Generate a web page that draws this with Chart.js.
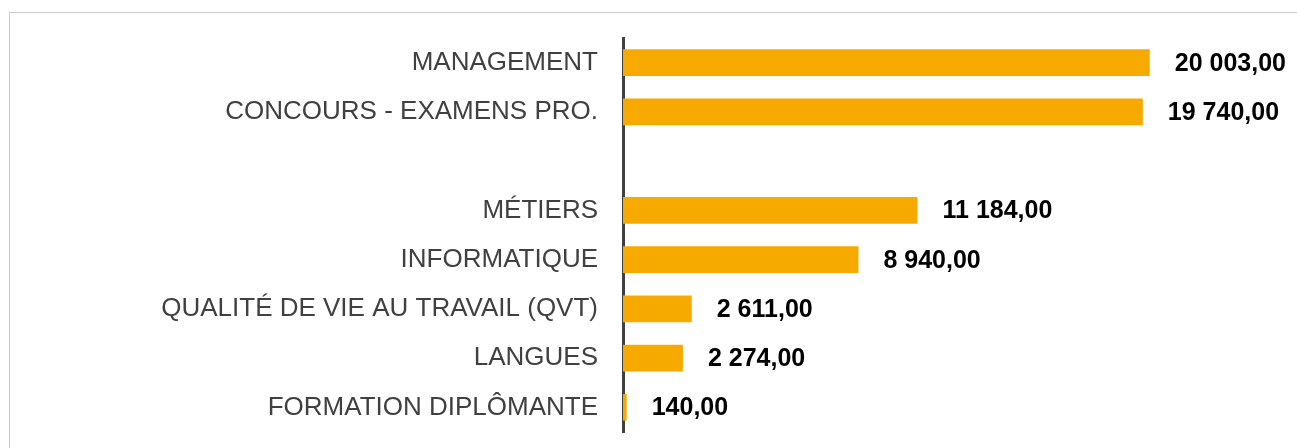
<!DOCTYPE html>
<html lang="fr">
<head>
<meta charset="utf-8">
<title>Heures de formation par domaine</title>
<script src="https://cdn.jsdelivr.net/npm/chart.js@4/dist/chart.umd.min.js"></script>
<style>
  html, body { margin: 0; padding: 0; background: #ffffff; overflow: hidden; }
  #wrap { position: relative; width: 1297px; height: 448px; }
  #frame {
    position: absolute; left: 9px; top: 12px; width: 1400px; height: 500px;
    border: 1px solid #cbcbcb; box-sizing: border-box;
  }
  #chart { position: absolute; left: 0; top: 0; }
</style>
</head>
<body>
<div id="wrap">
  <div id="frame"></div>
  <canvas id="chart" width="1297" height="448"></canvas>
</div>
<script>
// Domaines de formation (une ligne vide sépare les deux premiers du reste)
const categories = [
  'MANAGEMENT',
  'CONCOURS - EXAMENS PRO.',
  '',
  'MÉTIERS',
  'INFORMATIQUE',
  'QUALITÉ DE VIE AU TRAVAIL (QVT)',
  'LANGUES',
  'FORMATION DIPLÔMANTE'
];
const heures = [20003, 19740, null, 11184, 8940, 2611, 2274, 140];

const FONT = "'Liberation Sans', Arial, Helvetica, sans-serif";

// Format français : espace pour les milliers, virgule décimale
function formatFr(v) {
  const parts = v.toFixed(2).split('.');
  const ent = parts[0].replace(/\B(?=(\d{3})+(?!\d))/g, ' ');
  return ent + ',' + parts[1];
}

// Étiquettes de valeur à droite de chaque barre
const valueLabels = {
  id: 'valueLabels',
  afterDatasetsDraw(chart) {
    const ctx = chart.ctx;
    const meta = chart.getDatasetMeta(0);
    ctx.save();
    ctx.font = 'bold 25px ' + FONT;
    ctx.fillStyle = '#000000';
    ctx.textAlign = 'left';
    ctx.textBaseline = 'middle';
    meta.data.forEach((bar, i) => {
      const v = heures[i];
      if (v === null || v === undefined) return;
      ctx.fillText(formatFr(v), bar.x + 25, bar.y + 1);
    });
    ctx.restore();
  }
};

new Chart(document.getElementById('chart'), {
  type: 'bar',
  data: {
    labels: categories,
    datasets: [{
      data: heures,
      backgroundColor: '#F6AA00',
      borderWidth: 0,
      barPercentage: 0.54,
      categoryPercentage: 1
    }]
  },
  options: {
    indexAxis: 'y',
    responsive: false,
    animation: false,
    events: [],
    layout: { padding: { top: 38, bottom: 16, right: 42, left: 0 } },
    plugins: {
      legend: { display: false },
      tooltip: { enabled: false }
    },
    scales: {
      x: {
        display: false,
        min: 0,
        max: 24000
      },
      y: {
        z: 1,
        afterFit(scale) { scale.width = 623; },
        // invisible tick marks keep the labels clear of the axis line
        grid: {
          display: true,
          drawOnChartArea: false,
          drawTicks: true,
          tickLength: 25,
          color: 'rgba(0,0,0,0)'
        },
        border: { display: true, color: '#404040', width: 3 },
        ticks: {
          padding: 0,
          color: '#404040',
          font: { family: FONT, size: 26 }
        }
      }
    }
  },
  plugins: [valueLabels]
});
</script>
</body>
</html>
